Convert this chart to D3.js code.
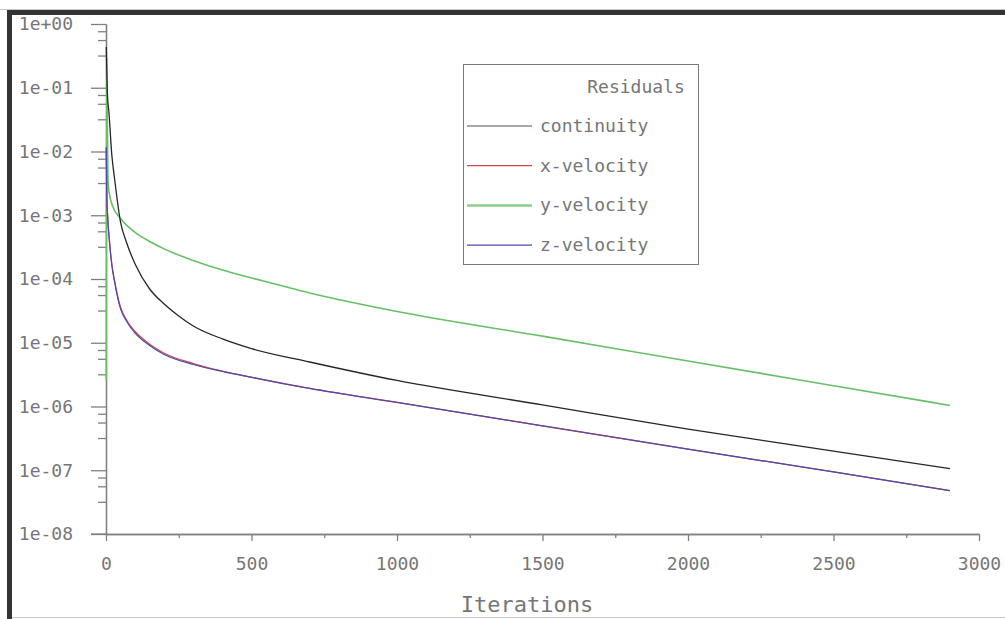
<!DOCTYPE html>
<html>
<head>
<meta charset="utf-8">
<script src="https://cdn.jsdelivr.net/npm/d3@7"></script>
<style>
  html, body { margin: 0; padding: 0; background: #ffffff; }
  svg { display: block; }
  text { font-family: "DejaVu Sans Mono", monospace; }
</style>
</head>
<body>
<svg id="chart" width="1005" height="619"></svg>
<script>
// Residual history of the solver run (iteration, scaled residual)
const continuityIter = [1, 3, 5, 10, 20, 30, 50, 70, 100, 150, 200, 250, 300, 400, 500, 700, 1000, 1500, 2000, 2500, 2900];
const continuityVal  = [0.435, 0.158, 0.077, 0.0417, 8.8e-3, 3.57e-3, 7.8e-4, 3.8e-4, 1.72e-4, 6.97e-5, 4.05e-5, 2.63e-5, 1.83e-5, 1.15e-5, 8.1e-6, 4.99e-6, 2.56e-6, 1.06e-6, 4.4e-7, 2.0e-7, 1.06e-7];

const yVelIter = [1, 2, 3, 5, 7, 14, 24, 50, 100, 150, 200, 300, 400, 500, 700, 1000, 1500, 2000, 2500, 2900];
const yVelVal  = [2.6e-6, 0.30, 0.10, 0.02, 3.2e-3, 1.9e-3, 1.35e-3, 8.9e-4, 5.37e-4, 3.88e-4, 2.97e-4, 1.95e-4, 1.38e-4, 1.04e-4, 6.03e-5, 3.09e-5, 1.27e-5, 5.17e-6, 2.12e-6, 1.04e-6];

const xVelIter = [1, 2, 3, 5, 7, 10, 20, 30, 50, 70, 100, 150, 200, 300, 400, 500, 700, 1000, 1500, 2000, 2500, 2900];
const xVelVal  = [0.011, 4.2e-3, 1.7e-3, 1.1e-3, 7.6e-4, 5.0e-4, 1.72e-4, 9.2e-5, 3.6e-5, 2.3e-5, 1.5e-5, 9.5e-6, 6.85e-6, 4.72e-6, 3.6e-6, 2.88e-6, 1.92e-6, 1.16e-6, 4.98e-7, 2.15e-7, 9.4e-8, 4.8e-8];

const zVelIter = [1, 2, 3, 5, 7, 10, 20, 30, 50, 70, 100, 150, 200, 300, 400, 500, 700, 1000, 1500, 2000, 2500, 2900];
const zVelVal  = [0.0118, 4.3e-3, 1.74e-3, 1.08e-3, 7.5e-4, 4.9e-4, 1.65e-4, 8.7e-5, 3.39e-5, 2.19e-5, 1.42e-5, 9.06e-6, 6.55e-6, 4.56e-6, 3.55e-6, 2.87e-6, 1.92e-6, 1.16e-6, 4.98e-7, 2.15e-7, 9.4e-8, 4.8e-8];

const seriesNames = ["continuity", "x-velocity", "y-velocity", "z-velocity"];
const xTickValues = [0, 500, 1000, 1500, 2000, 2500, 3000];
const xMinorTicks = [250, 750, 1250, 1750, 2250, 2750];
const yTickValues = [1, 1e-1, 1e-2, 1e-3, 1e-4, 1e-5, 1e-6, 1e-7, 1e-8];
const yMinorFactors = [0.77, 0.56, 0.32];

const svg = d3.select("#chart");

// window frame
svg.append("rect").attr("x", 0).attr("y", 0).attr("width", 1005).attr("height", 619).attr("fill", "#ffffff");
svg.append("line").attr("x1", 0).attr("x2", 1005).attr("y1", 9.5).attr("y2", 9.5).attr("stroke", "#c8c8c8");
svg.append("rect").attr("x", 7).attr("y", 10).attr("width", 998).attr("height", 5).attr("fill", "#333333");
svg.append("rect").attr("x", 7).attr("y", 10).attr("width", 5).attr("height", 609).attr("fill", "#333333");
svg.append("line").attr("x1", 12).attr("x2", 1005).attr("y1", 617.5).attr("y2", 617.5).attr("stroke", "#c8c8c8");

const x = d3.scaleLinear().domain([0, 3000]).range([106, 979]);
const y = d3.scaleLog().domain([1e-8, 1]).range([534, 24]);

const axisColor = "#808080";
const labelColor = "#767676";

const expFmt = d => {
  const e = Math.round(Math.log10(d));
  return "1e" + (e >= 0 ? "+" : "-") + String(Math.abs(e)).padStart(2, "0");
};

// y axis: majors with labels, minors unlabeled
const yMinor = [];
yTickValues.slice(0, -1).forEach(t => yMinorFactors.forEach(f => yMinor.push(t * f)));

const gy = svg.append("g").attr("transform", "translate(106,0)")
  .call(d3.axisLeft(y).tickValues(yTickValues).tickFormat(expFmt).tickSize(15).tickSizeOuter(0).tickPadding(18));
const gyMinor = svg.append("g").attr("transform", "translate(106,0)")
  .call(d3.axisLeft(y).tickValues(yMinor).tickFormat("").tickSize(8).tickSizeOuter(0));

// x axis
const gx = svg.append("g").attr("transform", "translate(0,534)")
  .call(d3.axisBottom(x).tickValues(xTickValues).tickFormat(d3.format("d")).tickSize(7).tickSizeOuter(0).tickPadding(16));
const gxMinor = svg.append("g").attr("transform", "translate(0,534)")
  .call(d3.axisBottom(x).tickValues(xMinorTicks).tickFormat("").tickSize(4).tickSizeOuter(0));

[gy, gyMinor, gx, gxMinor].forEach(g => {
  g.selectAll("path.domain").attr("stroke", axisColor).attr("stroke-width", 1.3);
  g.selectAll(".tick line").attr("stroke", axisColor).attr("stroke-width", 1.3);
  g.selectAll(".tick text").attr("fill", labelColor).attr("font-size", 18)
    .attr("font-family", "'DejaVu Sans Mono', monospace");
});
// x axis extends left to meet the 1e-08 tick
svg.append("line").attr("x1", 91).attr("x2", 106).attr("y1", 534).attr("y2", 534)
  .attr("stroke", axisColor).attr("stroke-width", 1.3);

svg.append("text").attr("x", 527).attr("y", 612).attr("text-anchor", "middle")
  .attr("font-size", 22).attr("fill", labelColor).text("Iterations");

// residual curves
const line = d3.line().x(d => x(d[0])).y(d => y(d[1])).curve(d3.curveMonotoneX);
const zipSeries = (its, vals) => its.map((it, i) => [it, vals[i]]);

const curves = [
  { data: zipSeries(yVelIter, yVelVal), color: "#66c066", width: 1.6 },
  { data: zipSeries(continuityIter, continuityVal), color: "#262626", width: 1.3 },
  { data: zipSeries(xVelIter, xVelVal), color: "#d24848", width: 1.3 },
  { data: zipSeries(zVelIter, zVelVal), color: "#4a4ab0", width: 1.2 }
];
curves.forEach(c => {
  svg.append("path").attr("d", line(c.data)).attr("fill", "none")
    .attr("stroke", c.color).attr("stroke-width", c.width).attr("stroke-linejoin", "round");
});

// legend
const legend = svg.append("g");
legend.append("rect").attr("x", 463.5).attr("y", 64.5).attr("width", 235).attr("height", 200)
  .attr("fill", "#ffffff").attr("stroke", "#7a7a7a").attr("stroke-width", 1);
legend.append("text").attr("x", 636).attr("y", 93).attr("text-anchor", "middle")
  .attr("font-size", 18).attr("fill", labelColor).text("Residuals");
const legendColors = { "continuity": "#8a8a8a", "x-velocity": "#d24848", "y-velocity": "#8ccf8c", "z-velocity": "#4a4ab0" };
const legendWidths = { "continuity": 1.3, "x-velocity": 1.3, "y-velocity": 2.5, "z-velocity": 1.3 };
seriesNames.forEach((name, i) => {
  const ly = 126 + i * 39.7;
  legend.append("line").attr("x1", 467).attr("x2", 532).attr("y1", ly).attr("y2", ly)
    .attr("stroke", legendColors[name]).attr("stroke-width", legendWidths[name]);
  legend.append("text").attr("x", 540).attr("y", ly + 6).attr("font-size", 18)
    .attr("fill", labelColor).text(name);
});
</script>
</body>
</html>
